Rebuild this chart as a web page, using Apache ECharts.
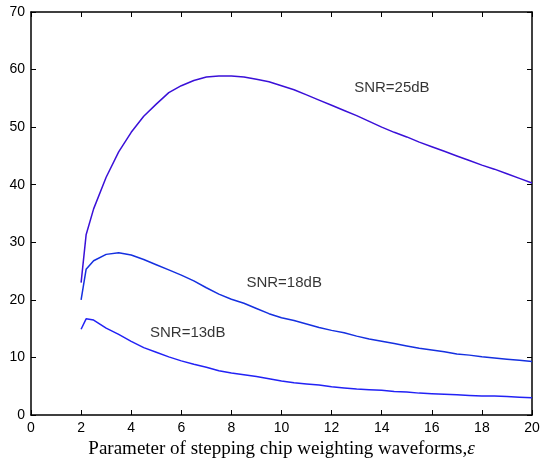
<!DOCTYPE html>
<html>
<head>
<meta charset="utf-8">
<script src="https://cdn.jsdelivr.net/npm/echarts@6/dist/echarts.min.js"></script>
<style>
  html, body { margin: 0; padding: 0; background: #fff; }
  #chart { width: 541px; height: 460px; }
</style>
</head>
<body>
<div id="chart"></div>
<script>
// Weighting-waveform parameter values (x)
const epsValues = [2, 2.2, 2.5, 3, 3.5, 4, 4.5, 5, 5.5, 6, 6.5, 7, 7.5, 8, 8.5, 9, 9.5, 10,
  10.5, 11, 11.5, 12, 12.5, 13, 13.5, 14, 14.5, 15, 15.5, 16, 16.5, 17, 17.5, 18, 18.5, 19, 19.5, 20];

const snr25 = [23.0, 31.3, 35.8, 41.3, 45.7, 49.1, 51.9, 54.0, 56.0, 57.2, 58.1, 58.7, 58.9, 58.9,
  58.7, 58.3, 57.9, 57.2, 56.5, 55.6, 54.7, 53.8, 52.9, 52.0, 51.0, 50.0, 49.1, 48.3, 47.4, 46.6,
  45.8, 45.0, 44.2, 43.4, 42.7, 41.9, 41.1, 40.3];

const snr18 = [20.0, 25.3, 26.8, 27.9, 28.2, 27.8, 27.0, 26.1, 25.2, 24.3, 23.3, 22.1, 21.0, 20.1,
  19.4, 18.5, 17.6, 16.9, 16.4, 15.8, 15.2, 14.7, 14.3, 13.7, 13.2, 12.8, 12.4, 12.0, 11.6, 11.3,
  11.0, 10.6, 10.4, 10.1, 9.9, 9.7, 9.5, 9.3];

const snr13 = [14.9, 16.7, 16.5, 15.1, 14.0, 12.8, 11.7, 10.9, 10.1, 9.4, 8.8, 8.3, 7.7, 7.3,
  7.0, 6.7, 6.3, 5.9, 5.6, 5.4, 5.2, 4.9, 4.7, 4.5, 4.4, 4.3, 4.1, 4.0, 3.8, 3.7,
  3.6, 3.5, 3.4, 3.3, 3.3, 3.2, 3.1, 3.0];

const xTicks = [0, 2, 4, 6, 8, 10, 12, 14, 16, 18, 20];
const yTicks = [0, 10, 20, 30, 40, 50, 60, 70];

const curveNames = ['SNR=25dB', 'SNR=18dB', 'SNR=13dB'];
// left-middle anchor of each curve's text label, in data units
const labelX = [12.9, 8.6, 4.75];
const labelY = [56.8, 22.9, 14.3];

const curveColors = ['#3a10d8', '#1530e0', '#2222f5'];
const curveData = [snr25, snr18, snr13];

const pairs = ys => epsValues.map((x, i) => [x, ys[i]]);

const axisLine = { show: true, onZero: false, lineStyle: { color: '#000', width: 1.5 } };
const tickIn = { show: true, inside: true, length: 5, lineStyle: { color: '#000', width: 1 } };
const tickFont = { fontFamily: 'Liberation Sans, Arial, sans-serif', fontSize: 14, color: '#000' };

const chart = echarts.init(document.getElementById('chart'), null, { renderer: 'canvas' });

const lineSeries = curveNames.map((name, i) => ({
  type: 'line', name, data: pairs(curveData[i]), showSymbol: false, symbol: 'none',
  lineStyle: { color: curveColors[i], width: 1.5 }, silent: true
}));

const labelSeries = {
  type: 'scatter', symbolSize: 0, silent: true,
  data: curveNames.map((name, i) => [labelX[i], labelY[i], name]),
  label: {
    show: true, position: 'right', distance: 0,
    formatter: p => p.value[2],
    fontFamily: 'Liberation Sans, Arial, sans-serif', fontSize: 15, color: '#000'
  }
};

chart.setOption({
  animation: false,
  backgroundColor: '#fff',
  grid: { left: 31, right: 9, top: 12, bottom: 45, containLabel: false, outerBoundsMode: 'none' },
  xAxis: [
    {
      type: 'value', position: 'bottom', min: xTicks[0], max: xTicks[xTicks.length - 1], interval: 2,
      axisLine, axisTick: tickIn, splitLine: { show: false },
      axisLabel: Object.assign({ margin: 6 }, tickFont),
      name: 'Parameter of stepping chip weighting waveforms,{e|ε}',
      nameLocation: 'middle', nameGap: 22,
      nameTextStyle: {
        fontFamily: 'Liberation Serif, Times New Roman, serif', fontSize: 19, color: '#000',
        rich: { e: { fontFamily: 'Liberation Serif, Times New Roman, serif', fontSize: 19, fontStyle: 'italic', color: '#000' } }
      }
    },
    {
      type: 'value', position: 'top', min: 0, max: 20, interval: 2,
      axisLine, axisTick: tickIn, axisLabel: { show: false }, splitLine: { show: false }
    }
  ],
  yAxis: [
    {
      type: 'value', position: 'left', min: yTicks[0], max: yTicks[yTicks.length - 1], interval: 10,
      axisLine, axisTick: tickIn, splitLine: { show: false },
      axisLabel: Object.assign({ margin: 6 }, tickFont)
    },
    {
      type: 'value', position: 'right', min: 0, max: 70, interval: 10,
      axisLine, axisTick: tickIn, axisLabel: { show: false }, splitLine: { show: false }
    }
  ],
  series: lineSeries.concat([labelSeries])
});
</script>
</body>
</html>
